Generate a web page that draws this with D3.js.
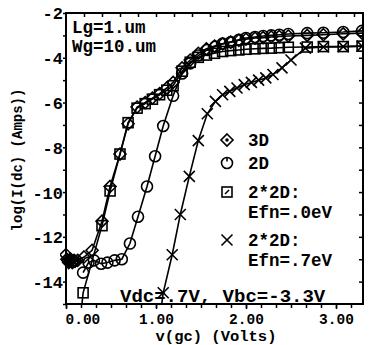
<!DOCTYPE html>
<html>
<head>
<meta charset="utf-8">
<script src="https://cdn.jsdelivr.net/npm/d3@7"></script>
<style>
  body { margin: 0; background: #fff; }
  svg { display: block; }
  text { font-family: "Liberation Mono", "DejaVu Sans Mono", monospace; font-weight: bold; fill: #000; }
</style>
</head>
<body>
<script>
// [v(gc) Volts, log I(dc) Amps]
const series3D = [
  [0.00, -12.8], [0.01, -13.0], [0.02, -13.05], [0.03, -13.15], [0.04, -13.1], [0.05, -13.0],
  [0.06, -13.05], [0.07, -13.15], [0.08, -13.1], [0.09, -13.05], [0.10, -13.1],
  [0.13, -13.05], [0.20, -12.9], [0.29, -12.6], [0.40, -11.3], [0.49, -9.75], [0.60, -8.3],
  [0.69, -6.95], [0.79, -6.2], [0.88, -6.0], [0.96, -5.8], [1.04, -5.6], [1.12, -5.35],
  [1.19, -5.1], [1.29, -4.45], [1.38, -4.1], [1.47, -3.8], [1.56, -3.6], [1.65, -3.48],
  [1.74, -3.38], [1.83, -3.3], [1.92, -3.22], [2.00, -3.17], [2.10, -3.12], [2.19, -3.1],
  [2.28, -3.07], [2.37, -3.05], [2.47, -3.03], [2.68, -3.0], [2.86, -2.97], [3.08, -2.93], [3.29, -2.9]
];
const series2D = [
  [0.19, -13.6], [0.25, -13.15], [0.31, -13.05], [0.39, -13.2], [0.46, -13.15], [0.54, -13.05],
  [0.62, -13.0], [0.71, -12.3], [0.80, -11.1], [0.90, -9.75], [0.99, -8.4], [1.08, -7.05],
  [1.19, -5.7], [1.29, -4.7], [1.38, -4.25], [1.47, -3.9], [1.57, -3.65], [1.66, -3.5],
  [1.74, -3.37], [1.83, -3.3], [1.92, -3.2], [2.00, -3.12], [2.10, -3.07], [2.19, -3.03],
  [2.28, -3.0], [2.37, -2.97], [2.47, -2.94], [2.68, -2.9], [2.86, -2.88], [3.08, -2.85], [3.29, -2.8]
];
const series2x2D_0 = [
  [0.17, -15.3], [0.19, -14.5], [0.40, -11.5], [0.49, -9.95], [0.60, -8.3], [0.69, -6.9],
  [0.79, -6.25], [0.88, -6.05], [0.96, -5.85], [1.04, -5.65], [1.12, -5.45], [1.19, -5.25],
  [1.29, -4.6], [1.38, -4.2], [1.47, -3.98], [1.56, -3.88], [1.65, -3.8], [1.74, -3.72],
  [1.83, -3.68], [1.92, -3.65], [2.00, -3.62], [2.10, -3.6], [2.19, -3.58], [2.28, -3.57],
  [2.37, -3.55], [2.47, -3.53], [2.68, -3.52], [2.86, -3.5], [3.08, -3.5], [3.29, -3.48]
];
const series2x2D_7 = [
  [1.05, -15.4], [1.08, -14.5], [1.18, -12.8], [1.27, -11.0], [1.37, -9.3], [1.47, -7.7],
  [1.57, -6.5], [1.66, -5.95], [1.74, -5.65], [1.82, -5.5], [1.90, -5.35], [1.98, -5.2],
  [2.06, -5.1], [2.14, -5.0], [2.22, -4.9], [2.30, -4.75], [2.40, -4.45], [2.50, -4.1],
  [2.66, -3.57], [2.86, -3.52], [3.08, -3.5], [3.29, -3.48]
];

const yMajorTicks = [-2, -4, -6, -8, -10, -12, -14];
const xMajorTicks = [0, 1, 2, 3];
const legendLines = [["3D"], ["2D"], ["2*2D:", "Efn=.0eV"], ["2*2D:", "Efn=.7eV"]];
const noteLines = ["Lg=1.um", "Wg=10.um"];
const biasNote = "Vdc=.7V, Vbc=-3.3V";

const W = 377, H = 345;
const svg = d3.select("body").append("svg").attr("width", W).attr("height", H);

const x = d3.scaleLinear().domain([0, 3.3]).range([66, 363]);
const y = d3.scaleLinear().domain([-15, -2]).range([304, 13]);

svg.append("clipPath").attr("id", "plotclip")
  .append("rect").attr("x", 60).attr("y", 13).attr("width", 303).attr("height", 291);

// axes
const styleAxis = g => {
  g.select(".domain").remove();
  g.selectAll("line").attr("stroke", "#000").attr("stroke-width", 1.5);
};

svg.append("g").attr("transform", "translate(66,0)")
  .call(d3.axisLeft(y).tickValues(yMajorTicks).tickSize(3).tickPadding(0).tickFormat(d => String(d)))
  .call(styleAxis)
  .call(g => g.selectAll("text").style("font-size", "17px").attr("dy", "0.35em"));
svg.append("g").attr("transform", "translate(66,0)")
  .call(d3.axisLeft(y).tickValues(d3.range(-15, -2, 2)).tickSize(3).tickFormat(""))
  .call(styleAxis);

svg.append("g").attr("transform", "translate(363,0)")
  .call(d3.axisLeft(y).tickValues(d3.range(-14, -2)).tickSize(4).tickFormat(""))
  .call(styleAxis);

svg.append("g").attr("transform", "translate(0,304)")
  .call(d3.axisBottom(x).tickValues(d3.range(0, 3.3, 1 / 6)).tickSize(4).tickFormat(""))
  .call(styleAxis);
svg.append("g").attr("transform", "translate(0,304)")
  .call(d3.axisBottom(x).tickValues(xMajorTicks).tickSize(5).tickPadding(5).tickFormat(d3.format(".2f")))
  .call(styleAxis)
  .call(g => g.selectAll("text").style("font-size", "14.5px"))
  .call(g => g.selectAll(".tick").filter(d => d === 0).select("text")
    .attr("text-anchor", "start").attr("x", -1));

svg.append("g").attr("transform", "translate(0,13)")
  .call(d3.axisTop(x).tickValues(d3.range(0.2, 3.3, 0.2)).tickSize(-4).tickFormat(""))
  .call(styleAxis);

svg.append("rect").attr("x", 66).attr("y", 13).attr("width", 297).attr("height", 291)
  .attr("fill", "none").attr("stroke", "#000").attr("stroke-width", 2);

// axis titles
svg.append("text").attr("transform", "translate(22,160) rotate(-90)")
  .attr("text-anchor", "middle").style("font-size", "14px").text("log(I(dc) (Amps))");
svg.append("text").attr("x", 216).attr("y", 341)
  .attr("text-anchor", "middle").style("font-size", "15.5px").text("v(gc) (Volts)");

// markers
function marker(g, type, cx, cy, legend) {
  const s = g.append("g").attr("fill", "none").attr("stroke", "#000").attr("stroke-width", 1.6);
  if (type === "diamond") {
    s.append("path").attr("d", `M${cx},${cy - 6}L${cx + 6},${cy}L${cx},${cy + 6}L${cx - 6},${cy}Z`);
    if (legend) s.append("circle").attr("cx", cx).attr("cy", cy).attr("r", 1).attr("fill", "#000");
  } else if (type === "circle") {
    s.append("circle").attr("cx", cx).attr("cy", cy).attr("r", 5.5);
    if (legend) s.append("line").attr("x1", cx).attr("x2", cx).attr("y1", cy - 5.5).attr("y2", cy - 1.5);
  } else if (type === "square") {
    s.append("rect").attr("x", cx - 5).attr("y", cy - 5).attr("width", 10).attr("height", 10);
    if (legend) s.append("line").attr("x1", cx - 2).attr("y1", cy + 2).attr("x2", cx + 2).attr("y2", cy - 2);
  } else {
    s.append("path").attr("d", `M${cx - 5.5},${cy - 5.5}L${cx + 5.5},${cy + 5.5}M${cx - 5.5},${cy + 5.5}L${cx + 5.5},${cy - 5.5}`);
  }
}

const line = d3.line().x(d => x(d[0])).y(d => y(d[1]));
const plot = svg.append("g").attr("clip-path", "url(#plotclip)");
const allSeries = [
  { data: series2x2D_7, type: "x" },
  { data: series2x2D_0, type: "square" },
  { data: series2D, type: "circle" },
  { data: series3D, type: "diamond" }
];
allSeries.forEach(s => {
  plot.append("path").datum(s.data).attr("d", line)
    .attr("fill", "none").attr("stroke", "#000").attr("stroke-width", 1.6);
  s.data.forEach(d => marker(plot, s.type, x(d[0]), y(d[1]), false));
});

// notes
noteLines.forEach((t, i) => {
  svg.append("text").attr("x", 72).attr("y", 33 + i * 19).style("font-size", "17.5px").text(t);
});
svg.append("text").attr("x", 120).attr("y", 302).style("font-size", "19px").text(biasNote);

// legend
const legendTypes = ["diamond", "circle", "square", "x"];
const legendY = [140, 163, 192, 240];
legendLines.forEach((lines, i) => {
  marker(svg, legendTypes[i], 227, legendY[i], true);
  lines.forEach((t, j) => {
    svg.append("text").attr("x", 248).attr("y", legendY[i] + 6 + j * 20)
      .style("font-size", "17.5px").text(t);
  });
});
</script>
</body>
</html>
